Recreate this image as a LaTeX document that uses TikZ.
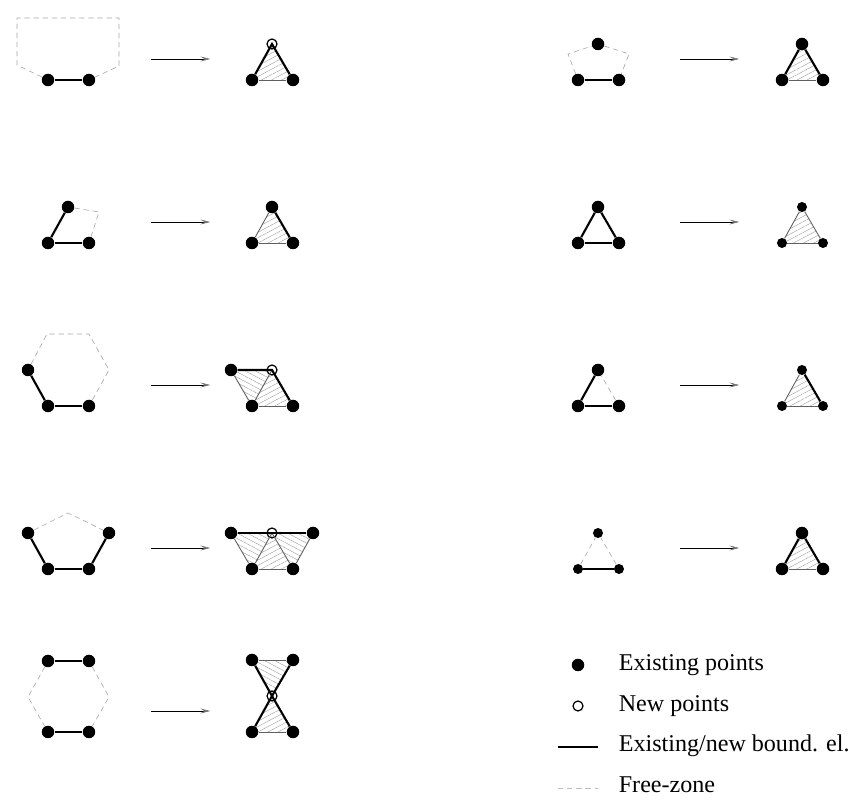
\documentclass[tikz,border=0pt]{standalone}
\usepackage{fontspec}
\setmainfont{Liberation Serif}
\usetikzlibrary{arrows.meta,patterns.meta,backgrounds}

\tikzset{
  expt/.style={circle,fill=black,draw=none,inner sep=0pt,minimum size=0.25cm},
  smallpt/.style={circle,fill=black,draw=none,inner sep=0pt,minimum size=0.2cm},
  newpt/.style={circle,draw=black,line width=0.7pt,inner sep=0pt,minimum size=0.2cm},
  bound/.style={line width=1.2pt,black},
  free/.style={line width=0.35pt,gray!70,dash pattern=on 3pt off 2.2pt},
  edge/.style={line width=0.5pt,gray!75!black},
  flow/.style={line width=0.5pt,-{Stealth[length=5.5pt,width=2.8pt,inset=2.5pt,color=gray!80!black,fill=gray,line width=0.25pt]}},
  hatchne/.style={pattern={Lines[angle=28,distance=2.7pt,line width=0.22pt]},pattern color=gray!80},
  hatchnw/.style={pattern={Lines[angle=-28,distance=2.7pt,line width=0.22pt]},pattern color=gray!80},
  legend/.style={anchor=base west,inner sep=0pt,font=\fontsize{13.7pt}{16pt}\selectfont}
}

\begin{document}
\begin{tikzpicture}[x=0.02cm,y=-0.02cm]

\useasboundingbox (0,0) rectangle (863,810);

\node[expt] (a1) at (48,80) {};
\node[expt] (a2) at (89,80) {};
\coordinate (a3) at (17,65);
\coordinate (a4) at (17,18);
\coordinate (a5) at (119,18);
\coordinate (a6) at (119,66);
\draw[bound] (a1) -- (a2);
\draw[free] (a1) -- (a3) -- (a4) -- (a5) -- (a6) -- (a2);
\coordinate (af1) at (151,59);
\coordinate (af2) at (210,59);
\draw[flow] (af1) -- (af2);
\node[expt] (at1) at (252,80) {};
\node[expt] (at2) at (293,80) {};
\node[newpt] (at3) at (272,44) {};
\begin{scope}[on background layer]
\fill[hatchne] (at1.center) -- (at2.center) -- (at3.center) -- cycle;
\end{scope}
\draw[edge] (at1) -- (at2);
\draw[bound] (at1) -- (at3.center) -- (at2);

\node[expt] (b1) at (48,243) {};
\node[expt] (b2) at (89,243) {};
\node[expt] (b3) at (68,207) {};
\coordinate (b4) at (99,212);
\draw[bound] (b1) -- (b2);
\draw[bound] (b1) -- (b3);
\draw[free] (b3) -- (b4) -- (b2);
\coordinate (bf1) at (151,222);
\coordinate (bf2) at (210,222);
\draw[flow] (bf1) -- (bf2);
\node[expt] (bt1) at (252,243) {};
\node[expt] (bt2) at (293,243) {};
\node[expt] (bt3) at (272,207) {};
\begin{scope}[on background layer]
\fill[hatchne] (bt1.center) -- (bt2.center) -- (bt3.center) -- cycle;
\end{scope}
\draw[edge] (bt1) -- (bt2);
\draw[edge] (bt1) -- (bt3);
\draw[bound] (bt2) -- (bt3);

\node[expt] (c1) at (48,406) {};
\node[expt] (c2) at (89,406) {};
\node[expt] (c3) at (28,370) {};
\coordinate (c4) at (47,334);
\coordinate (c5) at (89,334);
\coordinate (c6) at (109,370);
\draw[bound] (c1) -- (c2);
\draw[bound] (c1) -- (c3);
\draw[free] (c3) -- (c4) -- (c5) -- (c6) -- (c2);
\coordinate (cf1) at (151,385);
\coordinate (cf2) at (210,385);
\draw[flow] (cf1) -- (cf2);
\node[expt] (ct1) at (252,406) {};
\node[expt] (ct2) at (293,406) {};
\node[newpt] (ct3) at (272,370) {};
\node[expt] (ct4) at (231,370) {};
\begin{scope}[on background layer]
\fill[hatchne] (ct1.center) -- (ct2.center) -- (ct3.center) -- cycle;
\fill[hatchnw] (ct1.center) -- (ct3.center) -- (ct4.center) -- cycle;
\end{scope}
\draw[edge] (ct1) -- (ct2);
\draw[edge] (ct1) -- (ct3.center);
\draw[edge] (ct1) -- (ct4);
\draw[bound] (ct4) -- (ct3.center) -- (ct2);

\node[expt] (d1) at (48,569) {};
\node[expt] (d2) at (89,569) {};
\node[expt] (d3) at (28,533) {};
\node[expt] (d4) at (109,533) {};
\coordinate (d5) at (68,513);
\draw[bound] (d3) -- (d1);
\draw[bound] (d1) -- (d2);
\draw[bound] (d2) -- (d4);
\draw[free] (d3) -- (d5) -- (d4);
\coordinate (df1) at (151,548);
\coordinate (df2) at (210,548);
\draw[flow] (df1) -- (df2);
\node[expt] (dt1) at (252,569) {};
\node[expt] (dt2) at (293,569) {};
\node[newpt] (dt3) at (272,533) {};
\node[expt] (dt4) at (231,533) {};
\node[expt] (dt5) at (313,533) {};
\begin{scope}[on background layer]
\fill[hatchne] (dt1.center) -- (dt2.center) -- (dt3.center) -- cycle;
\fill[hatchnw] (dt1.center) -- (dt3.center) -- (dt4.center) -- cycle;
\fill[hatchnw] (dt2.center) -- (dt3.center) -- (dt5.center) -- cycle;
\end{scope}
\draw[edge] (dt1) -- (dt2);
\draw[edge] (dt1) -- (dt3.center);
\draw[edge] (dt2) -- (dt3.center);
\draw[edge] (dt1) -- (dt4);
\draw[edge] (dt2) -- (dt5);
\draw[bound] (dt4) -- (dt3.center) -- (dt5);

\node[expt] (e1) at (48,661) {};
\node[expt] (e2) at (89,661) {};
\node[expt] (e3) at (48,732) {};
\node[expt] (e4) at (89,732) {};
\coordinate (e5) at (28,697);
\coordinate (e6) at (109,697);
\draw[bound] (e1) -- (e2);
\draw[bound] (e3) -- (e4);
\draw[free] (e1) -- (e5) -- (e3);
\draw[free] (e2) -- (e6) -- (e4);
\coordinate (ef1) at (151,711);
\coordinate (ef2) at (210,711);
\draw[flow] (ef1) -- (ef2);
\node[expt] (et1) at (252,660) {};
\node[expt] (et2) at (293,660) {};
\node[newpt] (et3) at (272,696) {};
\node[expt] (et4) at (252,732) {};
\node[expt] (et5) at (293,732) {};
\begin{scope}[on background layer]
\fill[hatchnw] (et1.center) -- (et2.center) -- (et3.center) -- cycle;
\fill[hatchne] (et4.center) -- (et5.center) -- (et3.center) -- cycle;
\end{scope}
\draw[edge] (et1) -- (et2);
\draw[edge] (et4) -- (et5);
\draw[bound] (et1) -- (et3.center) -- (et5);
\draw[bound] (et2) -- (et3.center) -- (et4);

\node[expt] (f1) at (578,80) {};
\node[expt] (f2) at (619,80) {};
\node[expt] (f3) at (598,44) {};
\coordinate (f4) at (568,54);
\coordinate (f5) at (629,54);
\draw[bound] (f1) -- (f2);
\draw[free] (f1) -- (f4) -- (f3) -- (f5) -- (f2);
\coordinate (ff1) at (680,59);
\coordinate (ff2) at (739,59);
\draw[flow] (ff1) -- (ff2);
\node[expt] (ft1) at (782,80) {};
\node[expt] (ft2) at (823,80) {};
\node[expt] (ft3) at (802,44) {};
\begin{scope}[on background layer]
\fill[hatchne] (ft1.center) -- (ft2.center) -- (ft3.center) -- cycle;
\end{scope}
\draw[edge] (ft1) -- (ft2);
\draw[bound] (ft1) -- (ft3);
\draw[bound] (ft2) -- (ft3);

\node[expt] (g1) at (578,243) {};
\node[expt] (g2) at (619,243) {};
\node[expt] (g3) at (598,207) {};
\draw[bound] (g1) -- (g2);
\draw[bound] (g1) -- (g3);
\draw[bound] (g2) -- (g3);
\coordinate (gf1) at (680,222);
\coordinate (gf2) at (739,222);
\draw[flow] (gf1) -- (gf2);
\node[smallpt] (gt1) at (782,243) {};
\node[smallpt] (gt2) at (823,243) {};
\node[smallpt] (gt3) at (802,207) {};
\begin{scope}[on background layer]
\fill[hatchne] (gt1.center) -- (gt2.center) -- (gt3.center) -- cycle;
\end{scope}
\draw[edge] (gt1) -- (gt2);
\draw[edge] (gt1) -- (gt3);
\draw[edge] (gt2) -- (gt3);

\node[expt] (h1) at (578,406) {};
\node[expt] (h2) at (619,406) {};
\node[expt] (h3) at (598,370) {};
\draw[bound] (h1) -- (h2);
\draw[bound] (h1) -- (h3);
\draw[free] (h2) -- (h3);
\coordinate (hf1) at (680,385);
\coordinate (hf2) at (739,385);
\draw[flow] (hf1) -- (hf2);
\node[smallpt] (ht1) at (782,406) {};
\node[smallpt] (ht2) at (823,406) {};
\node[smallpt] (ht3) at (802,370) {};
\begin{scope}[on background layer]
\fill[hatchne] (ht1.center) -- (ht2.center) -- (ht3.center) -- cycle;
\end{scope}
\draw[edge] (ht1) -- (ht2);
\draw[edge] (ht1) -- (ht3);
\draw[bound] (ht2) -- (ht3);

\node[smallpt] (k1) at (578,569) {};
\node[smallpt] (k2) at (619,569) {};
\node[smallpt] (k3) at (598,533) {};
\draw[bound] (k1) -- (k2);
\draw[free] (k1) -- (k3);
\draw[free] (k2) -- (k3);
\coordinate (kf1) at (680,548);
\coordinate (kf2) at (739,548);
\draw[flow] (kf1) -- (kf2);
\node[expt] (kt1) at (782,569) {};
\node[expt] (kt2) at (823,569) {};
\node[expt] (kt3) at (802,533) {};
\begin{scope}[on background layer]
\fill[hatchne] (kt1.center) -- (kt2.center) -- (kt3.center) -- cycle;
\end{scope}
\draw[edge] (kt1) -- (kt2);
\draw[bound] (kt1) -- (kt3);
\draw[bound] (kt2) -- (kt3);

\node[expt] (lg1) at (578,665) {};
\node[newpt] (lg2) at (578,706) {};
\coordinate (lg3) at (558,747);
\coordinate (lg4) at (598,747);
\coordinate (lg5) at (558,788);
\coordinate (lg6) at (598,788);
\draw[bound,line width=0.9pt] (lg3) -- (lg4);
\draw[free,gray!50] (lg5) -- (lg6);

\node[legend] (tx1) at (618.5,671) {Existing points};
\node[legend] (tx2) at (618.5,712) {New points};
\node[legend] (tx3) at (618.5,752) {Existing/new bound. el.};
\node[legend] (tx4) at (618.5,793) {Free-zone};

\end{tikzpicture}
\end{document}
